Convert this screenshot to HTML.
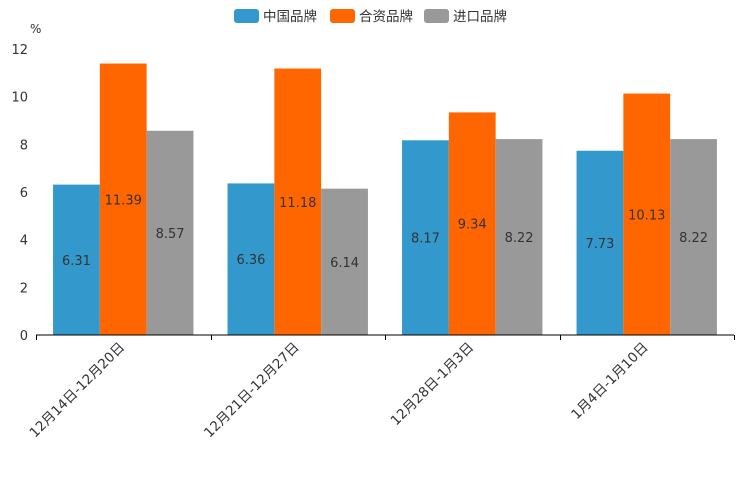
<!DOCTYPE html>
<html><head><meta charset="utf-8"><style>
body{margin:0;background:#fff;}
svg{font-family:"DejaVu Sans","Liberation Sans","Noto Sans CJK SC",sans-serif;}
</style></head><body>
<svg id="chart" width="744" height="496"></svg>
<script>
const categories=["12月14日-12月20日","12月21日-12月27日","12月28日-1月3日","1月4日-1月10日"];
const seriesNames=["中国品牌","合资品牌","进口品牌"];
const chinaBrand=[6.31,6.36,8.17,7.73];
const jointBrand=[11.39,11.18,9.34,10.13];
const importBrand=[8.57,6.14,8.22,8.22];
const yTicks=[0,2,4,6,8,10,12];
const colors=["#3399cc","#ff6600","#999999"];
const series=[chinaBrand,jointBrand,importBrand];
const NS="http://www.w3.org/2000/svg";
const svg=document.getElementById('chart');
const x0=36,x1=734,yBase=335,yTop=49,yMax=12;
const yScale=v=>yBase-(v/yMax)*(yBase-yTop);
const groupW=(x1-x0)/categories.length;
const barW=46.8,pad=(groupW-3*barW)/2;
function el(tag,attrs,parent){const e=document.createElementNS(NS,tag);for(const k in attrs)e.setAttribute(k,attrs[k]);(parent||svg).appendChild(e);return e;}
// legend
const legendX=[234,330,424];
seriesNames.forEach((n,i)=>{
  const g=el('g',{});
  
  
  el('rect',{x:legendX[i],y:9,width:25,height:14,rx:3,fill:colors[i]},g);
  const t=el('text',{x:legendX[i]+29,y:21,'font-size':13.5,fill:'#333'},g);t.textContent=n;
});
// y axis
const ua=el('text',{x:30,y:33,'font-size':12,fill:'#333'});ua.textContent='%';


yTicks.forEach(v=>{
  const t=el('text',{x:28,y:yScale(v)+5,'font-size':13,fill:'#333','text-anchor':'end'});
  t.textContent=v;
  
  
});
// bars
categories.forEach((c,gi)=>{
  const gx=x0+gi*groupW;
  series.forEach((s,si)=>{
    const bx=gx+pad+si*barW, y=yScale(s[gi]);
    const r=el('rect',{x:bx,y:y,width:barW,height:yBase-y,fill:colors[si]});
    
    
    const t=el('text',{x:bx+barW/2,y:(y+yBase)/2+5,'font-size':13,fill:'#333','text-anchor':'middle'});
    t.textContent=s[gi].toFixed(2);
    
    
  });
  const cx=gx+groupW/2;
  const lx=cx+2, ly=348;
  const lbl=el('text',{x:lx,y:ly,'font-size':13.5,fill:'#333','text-anchor':'end',transform:`rotate(-45 ${lx} ${ly})`});
  lbl.textContent=c;
  
  
});
// x axis
const ax=el('line',{x1:x0,y1:yBase,x2:x1,y2:yBase,stroke:'#000','stroke-width':1});


for(let i=0;i<=categories.length;i++){
  const tx=Math.round(x0+i*groupW)+0.5;
  el('line',{x1:tx,y1:yBase,x2:tx,y2:yBase+5,stroke:'#000'});
}
</script>
</body></html>
